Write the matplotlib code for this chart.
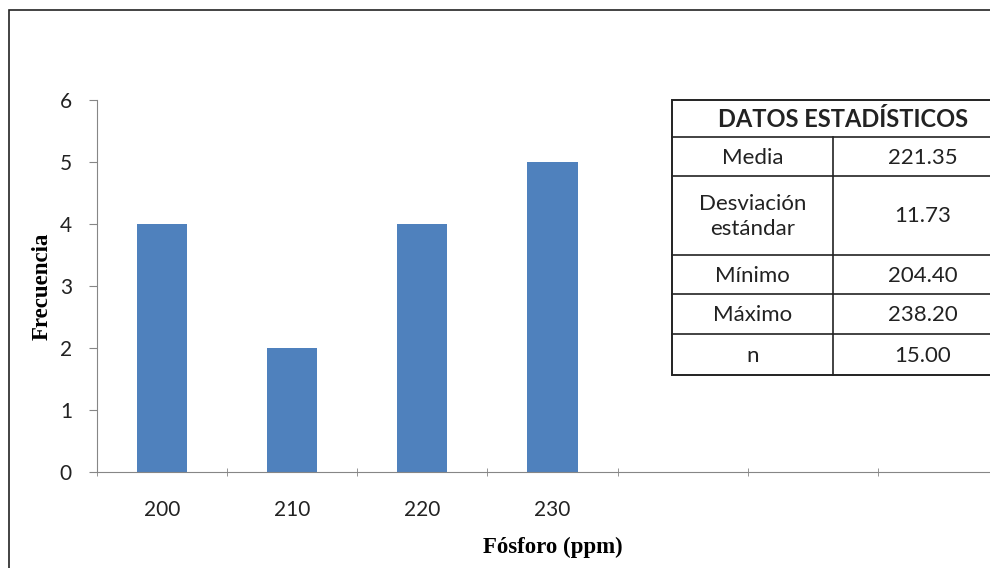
import matplotlib
matplotlib.use('Agg')
from matplotlib import pyplot as plt
from matplotlib.patches import Rectangle

# datos del histograma
categorias = ['200', '210', '220', '230', '', '', '']
frecuencias = [4, 2, 4, 5, 0, 0, 0]

# tabla de datos estadisticos
tabla_titulo = 'DATOS ESTADÍSTICOS'
tabla_nombres = ['Media', 'Desviación\nestándar', 'Mínimo', 'Máximo', 'n']
tabla_valores = ['221.35', '11.73', '204.40', '238.20', '15.00']

W, H = 990, 568
fig = plt.figure(figsize=(W / 100, H / 100), dpi=100)
fig.patch.set_facecolor('white')

# marco exterior
fig.patches.append(Rectangle((9 / W, -0.1), 1.2, (H - 10) / H + 0.1, transform=fig.transFigure,
                             fill=False, edgecolor='#222222', linewidth=1.2))

ax = fig.add_axes([97 / W, (H - 472) / H, 911 / W, 372 / H])
idx = list(range(len(categorias)))
ax.bar(idx, frecuencias, width=0.385, color='#4f81bd', linewidth=0)
ax.set_xlim(-0.5, len(categorias) - 0.5)
ax.set_ylim(0, 6)
ax.set_yticks(range(0, 7))

ax.set_xticks(idx)
ax.set_xticklabels(categorias)
ax.set_xticks([i - 0.5 for i in range(len(categorias) + 1)], minor=True)
ax.tick_params(axis='x', which='major', length=0, pad=20, labelsize=15, labelcolor='#222222')
ax.tick_params(axis='x', which='minor', length=6, direction='inout', color='#868686')
ax.tick_params(axis='y', length=6, direction='out', color='#868686', pad=12, labelsize=15,
               labelcolor='#222222')
for lbl in ax.get_xticklabels() + ax.get_yticklabels():
    lbl.set_family('Lato')

for s in ['top', 'right']:
    ax.spines[s].set_visible(False)
ax.spines['left'].set_color('#868686')
ax.spines['bottom'].set_color('#868686')

ax.set_ylabel('Frecuencia', family='Liberation Serif', fontweight='bold', fontsize=16.5, labelpad=5)
ax.set_xlabel('Fósforo (ppm)', family='Liberation Serif', fontweight='bold', fontsize=16.5, labelpad=12)

# tabla en pixeles
tx = fig.add_axes([0, 0, 1, 1], facecolor='none')
tx.set_xlim(0, W)
tx.set_ylim(H, 0)
tx.axis('off')

left, mid, right = 672, 833, 1000
filas = [100, 137, 176, 255, 294, 334, 375]
tx.add_patch(Rectangle((left, filas[0]), right - left, filas[-1] - filas[0],
                       facecolor='white', edgecolor='#222222', linewidth=1.4))
for y in filas[1:-1]:
    tx.plot([left, right], [y, y], color='#222222', linewidth=1.2)
tx.plot([mid, mid], [filas[1], filas[-1]], color='#222222', linewidth=1.2)

tx.text(843, (filas[0] + filas[1]) / 2 + 1, tabla_titulo, ha='center', va='center',
        family='Lato', fontweight='bold', fontsize=17, color='#222222')
for i, (nom, val) in enumerate(zip(tabla_nombres, tabla_valores)):
    yc = (filas[i + 1] + filas[i + 2]) / 2 + 1
    tx.text((left + mid) / 2, yc, nom, ha='center', va='center', family='Lato',
            fontsize=16, color='#222222', linespacing=1.35)
    tx.text(923, yc, val, ha='center', va='center', family='Lato',
            fontsize=16, color='#222222')

fig.savefig('out.png', dpi=100)
